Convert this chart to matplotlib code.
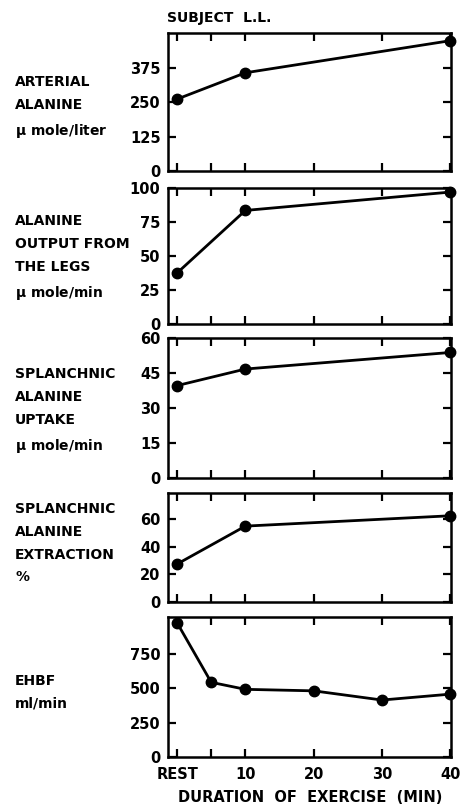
import matplotlib.pyplot as plt

# duration of exercise (min); 0 = rest
t_short = [0, 10, 40]
t_ehbf = [0, 5, 10, 20, 30, 40]

arterial_alanine = [262, 358, 475]
leg_output = [37.5, 83.5, 97]
splanch_uptake = [39.6, 46.7, 53.8]
splanch_extraction = [27.5, 55, 62.5]
ehbf = [978, 544, 493, 482, 415, 458]

xtick_pos = [0, 5, 10, 20, 30, 40]
xtick_lab = ["REST", "", "10", "20", "30", "40"]

labels = [
    "ARTERIAL\nALANINE\n$\\mu$ mole/liter",
    "ALANINE\nOUTPUT FROM\nTHE LEGS\n$\\mu$ mole/min",
    "SPLANCHNIC\nALANINE\nUPTAKE\n$\\mu$ mole/min",
    "SPLANCHNIC\nALANINE\nEXTRACTION\n%",
    "EHBF\nml/min",
]

plt.rcParams['font.family'] = ['DejaVu Sans']
plt.rcParams['font.weight'] = 'bold'
plt.rcParams['mathtext.default'] = 'bf'

W, H = 461, 807
fig = plt.figure(figsize=(W / 100, H / 100), dpi=100)

# panel boxes in pixels (top, bottom)
boxes = [(33, 171), (188, 324), (338, 478), (493, 602), (617, 757)]
left_px, right_px = 167.5, 451

panels = [
    (t_short, arterial_alanine, (0, 503), [0, 125, 250, 375]),
    (t_short, leg_output, (0, 100), [0, 25, 50, 75, 100]),
    (t_short, splanch_uptake, (0, 60), [0, 15, 30, 45, 60]),
    (t_short, splanch_extraction, (0, 79), [0, 20, 40, 60]),
    (t_ehbf, ehbf, (0, 1020), [0, 250, 500, 750]),
]

label_y = [83, 222, 375, 510, 682]

for i, (top, bot) in enumerate(boxes):
    ax = fig.add_axes([left_px / W, 1 - bot / H, (right_px - left_px) / W, (bot - top) / H])
    xs, ys, ylim, yt = panels[i]
    ax.plot(xs, ys, color='black', lw=2, marker='o', ms=7.5, clip_on=False, zorder=5)
    ax.set_xlim(-1.4, 40.1)
    ax.set_ylim(*ylim)
    ax.set_yticks(yt)
    ax.set_yticklabels([str(v) for v in yt], fontsize=10.5, fontweight='bold')
    ax.set_xticks(xtick_pos)
    ax.tick_params(direction='in', length=6, width=1.6, top=True, right=True, pad=5)
    ax.tick_params(axis='x', pad=7)
    if i == 4:
        ax.set_xticklabels(xtick_lab, fontsize=10.5, fontweight='bold')
    else:
        ax.set_xticklabels([])
    for s in ax.spines.values():
        s.set_linewidth(1.8)
    fig.text(15 / W, 1 - (label_y[i] - 8) / H, labels[i], ha='left', va='top',
             fontsize=10, fontweight='bold', linespacing=1.8)

fig.text(167 / W, 1 - 18 / H, "SUBJECT  L.L.", ha='left', va='center', fontsize=10, fontweight='bold')
fig.text(310 / W, 1 - 798 / H, "DURATION  OF  EXERCISE  (MIN)", ha='center', va='center',
         fontsize=10.5, fontweight='bold')

fig.savefig("out.png", dpi=100)
